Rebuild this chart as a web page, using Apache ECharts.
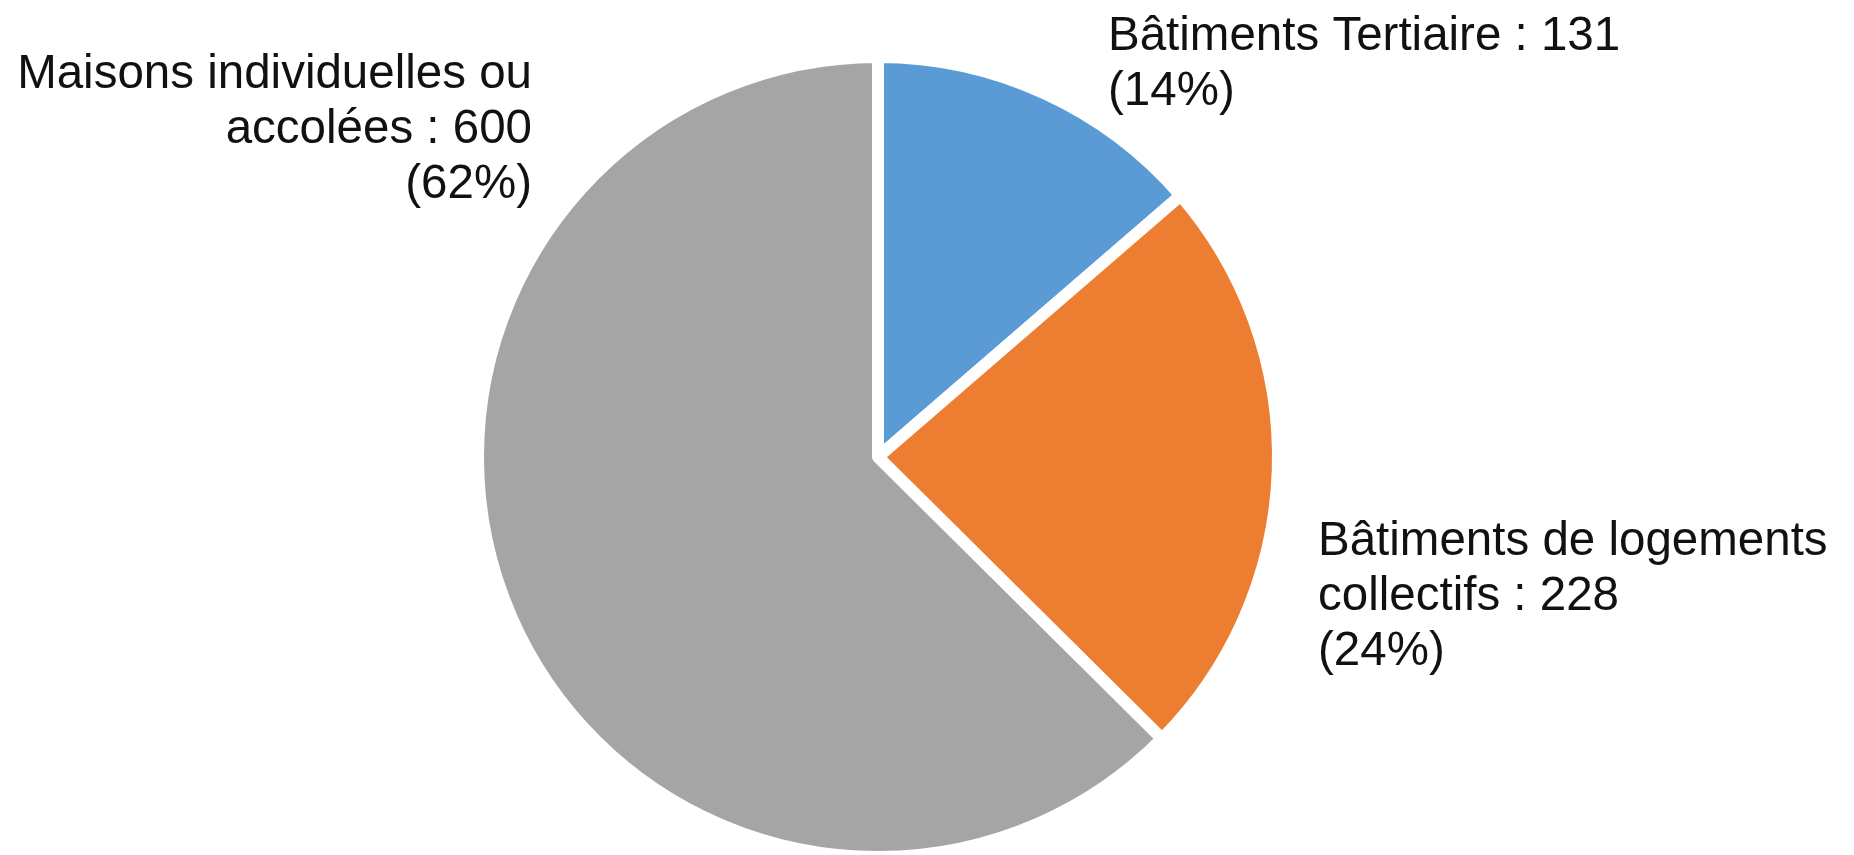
<!DOCTYPE html>
<html>
<head>
<meta charset="utf-8">
<script src="https://cdn.jsdelivr.net/npm/echarts@6/dist/echarts.min.js"></script>
<style>
  html, body { margin: 0; padding: 0; background: #fff; }
  #chart { width: 1854px; height: 855px; }
</style>
</head>
<body>
<div id="chart"></div>
<script>
// Building types and counts
const categories = [
  'Bâtiments Tertiaire',
  'Bâtiments de logements collectifs',
  'Maisons individuelles ou accolées'
];
const counts = [131, 228, 600];
const colors = ['#5b9bd5', '#ed7d31', '#a5a5a5'];

// Label anchors: [x, y, align] for each slice
const labelAnchors = [
  [1108, 9, 'left'],
  [1318, 514, 'left'],
  [532, 47, 'right']
];

// Greedy word wrap on a character budget, no trailing spaces
function wrap(text, maxChars) {
  const words = text.split(' ');
  const lines = [];
  let cur = '';
  words.forEach(w => {
    const next = cur ? cur + ' ' + w : w;
    if (next.length > maxChars && cur) {
      lines.push(cur);
      cur = w;
    } else {
      cur = next;
    }
  });
  if (cur) lines.push(cur);
  return lines.join('\n');
}

const chart = echarts.init(document.getElementById('chart'), null, { renderer: 'canvas' });

chart.setOption({
  animation: false,
  backgroundColor: '#ffffff',
  series: [{
    type: 'pie',
    center: [878, 457],
    radius: [0, 400],
    startAngle: 90,
    clockwise: true,
    percentPrecision: 0,
    itemStyle: { borderColor: '#ffffff', borderWidth: 12 },
    label: {
      show: true,
      position: 'outside',
      formatter: p => wrap(p.name + ' : ' + p.value, 25) + '\n(' + p.percent + '%)',
      fontFamily: '"Liberation Sans", Arial, sans-serif',
      fontSize: 47.5,
      lineHeight: 55,
      color: '#111111',
      width: 700,
      overflow: 'none'
    },
    labelLine: { show: false },
    labelLayout: function (params) {
      const a = labelAnchors[params.dataIndex];
      return { x: a[0], y: a[1], align: a[2], verticalAlign: 'top' };
    },
    emphasis: { disabled: true },
    data: categories.map((name, i) => ({
      name: name,
      value: counts[i],
      itemStyle: { color: colors[i] },
      label: { align: labelAnchors[i][2] }
    }))
  }]
});
</script>
</body>
</html>
